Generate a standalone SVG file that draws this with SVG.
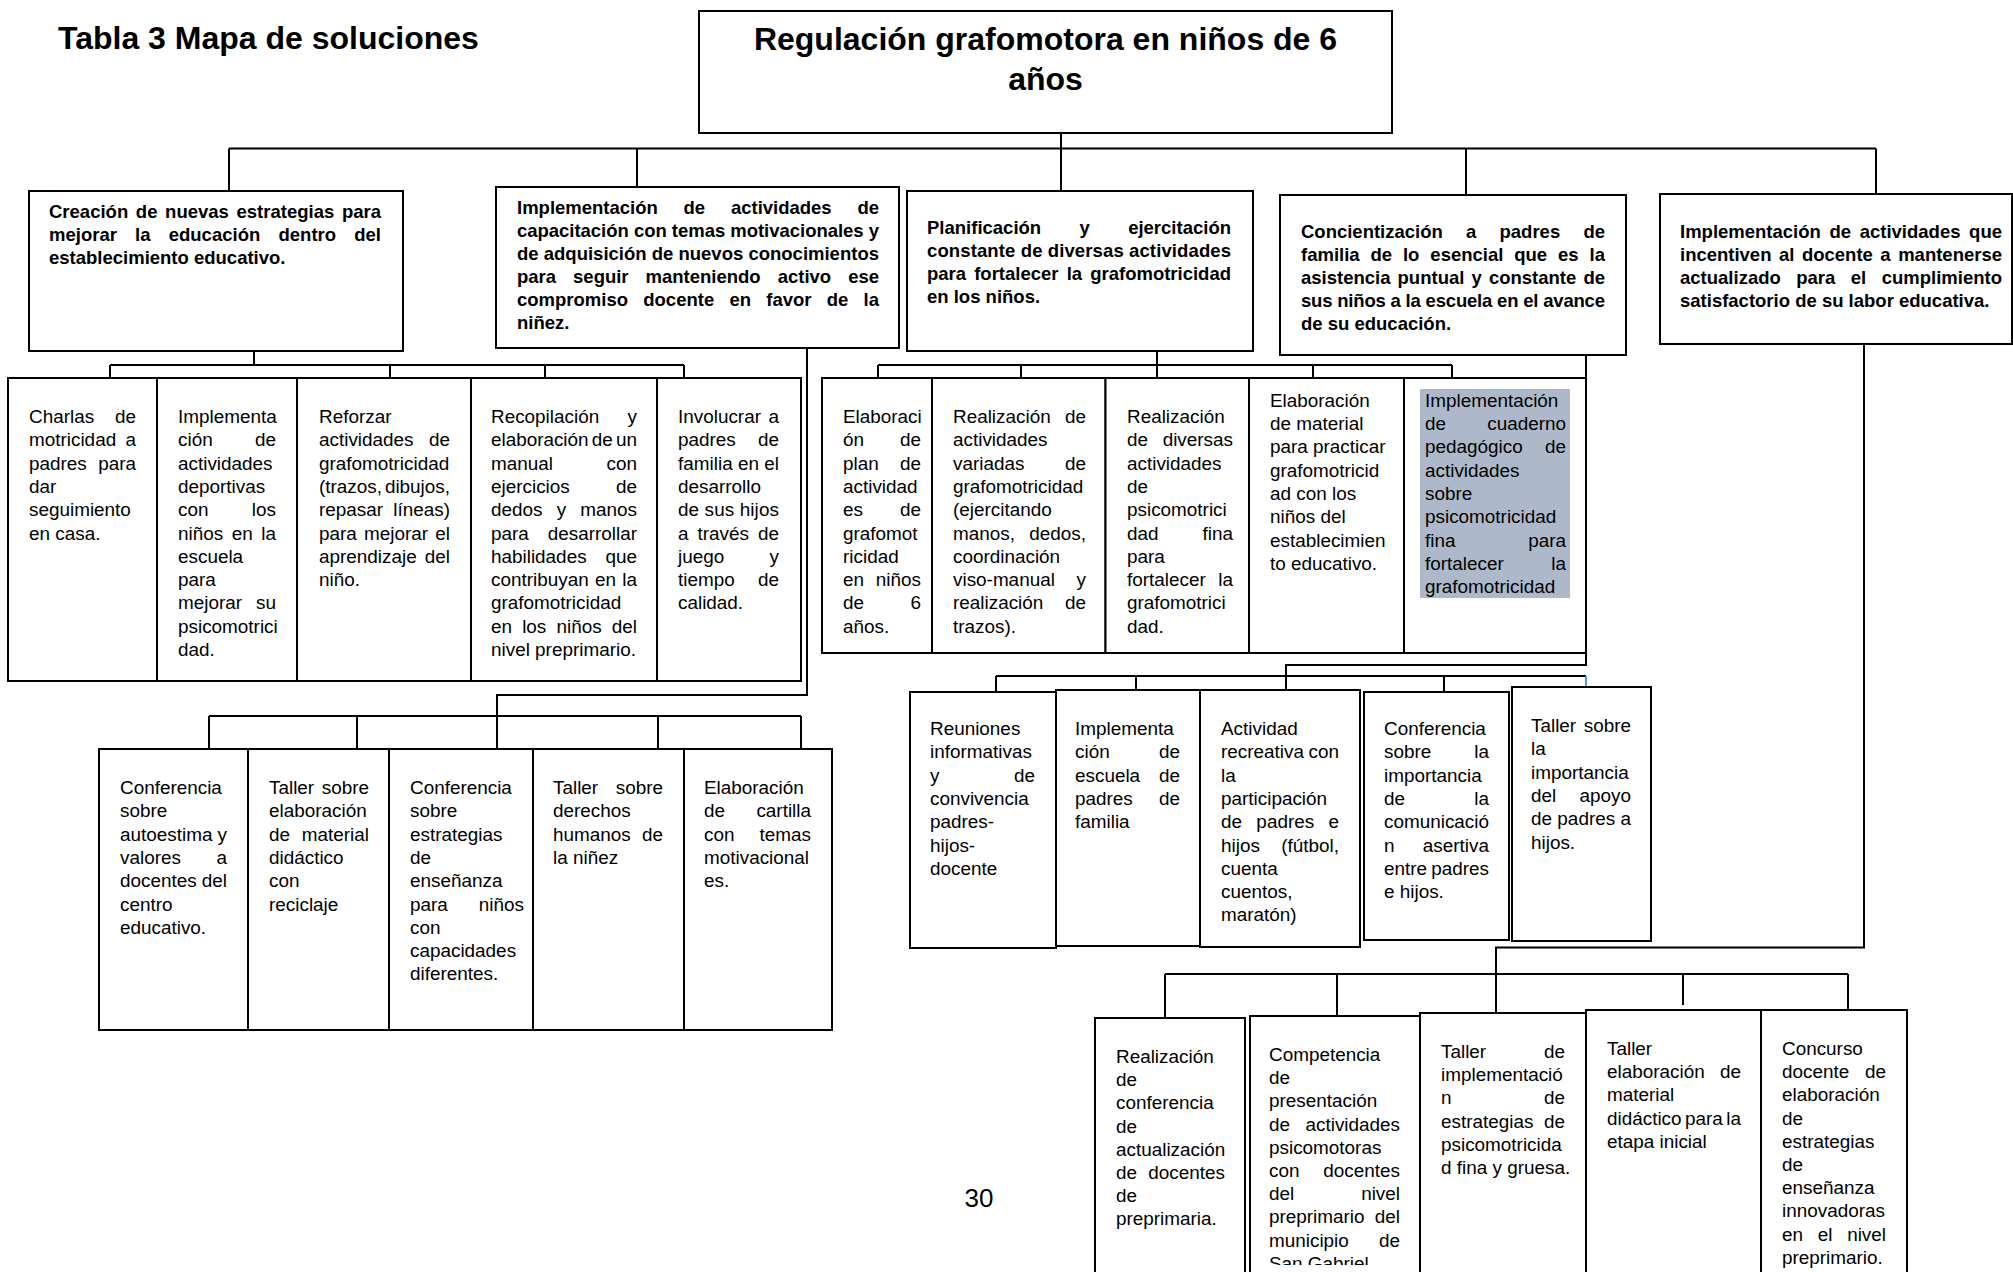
<svg xmlns="http://www.w3.org/2000/svg" width="2013" height="1272" viewBox="0 0 2013 1272">
<style>
text{font-family:"Liberation Sans",Arial,sans-serif;fill:#000}
.n text,text.n{font-size:18.9px}
.b text,text.b{font-size:18.5px;font-weight:bold}
.h{font-size:32px;font-weight:bold}
.e{text-anchor:end}
.box{fill:#fff;stroke:#000;stroke-width:2}
.c{fill:none;stroke:#000;stroke-width:2}
</style>
<defs>
<clipPath id="clipE2"><rect x="1250" y="1000" width="170" height="265"/></clipPath>
</defs>
<rect width="2013" height="1272" fill="#fff"/>
<text class="h" x="58" y="49">Tabla 3 Mapa de soluciones</text>

<g id="connectors" class="c">
<path d="M1061,133V191M229,148.5H1876M229,148.5V191M637,148.5V187M1466,148.5V195M1876,148.5V194"/>
<path d="M254,351V365M110,365H684M110,365V378M390,365V378M545,365V378M684,365V378"/>
<path d="M807,348V695H497V749M209,716H801M209,716V749M357,716V749M658,716V749M801,716V749"/>
<path d="M1157,351V378M878,365H1452M878,365V378M1021,365V378M1313,365V378M1452,365V378M1586,355V378"/>
<path d="M1586,653V665H1286V692M996,676H1586M996,676V692M1136,676V690M1444,676V692"/>
<path d="M1586,676V687" style="stroke:#5b9bd5"/>
<path d="M1864,344V947.5H1496V1013M1165,974H1848M1165,974V1018M1337,974V1016M1683,974V1005M1848,974V1010"/>
</g>

<g id="n-root">
<rect class="box" x="699" y="11" width="693" height="122"/>
<text class="h" x="1045.5" y="50" text-anchor="middle">Regulación grafomotora en niños de 6</text>
<text class="h" x="1045.5" y="90" text-anchor="middle">años</text>
</g>

<g id="n-l1-1" class="b">
<rect class="box" x="29" y="191" width="374" height="160"/>
<text x="49" y="217.5" textLength="332" lengthAdjust="spacing" word-spacing="2.5">Creación de nuevas estrategias para</text>
<text x="49" y="240.6" textLength="332" lengthAdjust="spacing" word-spacing="13">mejorar la educación dentro del</text>
<text x="49" y="263.7">establecimiento educativo.</text>
</g>

<g id="n-l1-2" class="b">
<rect class="box" x="496" y="187" width="403" height="161"/>
<text x="517" y="213.5" textLength="362" lengthAdjust="spacing" word-spacing="20.6">Implementación de actividades de</text>
<text x="517" y="236.6" textLength="362" lengthAdjust="spacing">capacitación con temas motivacionales y</text>
<text x="517" y="259.7" textLength="362" lengthAdjust="spacing">de adquisición de nuevos conocimientos</text>
<text x="517" y="282.8" textLength="362" lengthAdjust="spacing" word-spacing="11.9">para seguir manteniendo activo ese</text>
<text x="517" y="305.9" textLength="362" lengthAdjust="spacing" word-spacing="10.1">compromiso docente en favor de la</text>
<text x="517" y="329">niñez.</text>
</g>

<g id="n-l1-3" class="b">
<rect class="box" x="907" y="191" width="346" height="160"/>
<text x="927" y="234" textLength="304" lengthAdjust="spacing" word-spacing="33.2">Planificación y ejercitación</text>
<text x="927" y="257.1" textLength="304" lengthAdjust="spacing">constante de diversas actividades</text>
<text x="927" y="280.2" textLength="304" lengthAdjust="spacing" word-spacing="3">para fortalecer la grafomotricidad</text>
<text x="927" y="303.3">en los niños.</text>
</g>

<g id="n-l1-4" class="b">
<rect class="box" x="1280" y="195" width="346" height="160"/>
<text x="1301" y="238" textLength="304" lengthAdjust="spacing" word-spacing="18.1">Concientización a padres de</text>
<text x="1301" y="261.1" textLength="304" lengthAdjust="spacing" word-spacing="5.8">familia de lo esencial que es la</text>
<text x="1301" y="284.2" textLength="304" lengthAdjust="spacing" word-spacing="2">asistencia puntual y constante de</text>
<text x="1301" y="307.3" textLength="304" lengthAdjust="spacing">sus niños a la escuela en el avance</text>
<text x="1301" y="330.4">de su educación.</text>
</g>

<g id="n-l1-5" class="b">
<rect class="box" x="1660" y="194" width="352" height="150"/>
<text x="1680" y="238" textLength="322" lengthAdjust="spacing" word-spacing="3.5">Implementación de actividades que</text>
<text x="1680" y="261.1" textLength="322" lengthAdjust="spacing" word-spacing="2.4">incentiven al docente a mantenerse</text>
<text x="1680" y="284.2" textLength="322" lengthAdjust="spacing" word-spacing="10.3">actualizado para el cumplimiento</text>
<text x="1680" y="307.3">satisfactorio de su labor educativa.</text>
</g>

<!-- Row A -->
<g id="n-a1" class="n">
<rect class="box" x="8" y="378" width="149" height="303"/>
<text x="29" y="423">Charlas</text><text class="e" x="136" y="423">de</text>
<text x="29" y="446.3">motricidad</text><text class="e" x="136" y="446.3">a</text>
<text x="29" y="469.6">padres</text><text class="e" x="136" y="469.6">para</text>
<text x="29" y="492.9">dar</text>
<text x="29" y="516.2">seguimiento</text>
<text x="29" y="539.5">en casa.</text>
</g>
<g id="n-a2" class="n">
<rect class="box" x="157" y="378" width="140" height="303"/>
<text x="178" y="423">Implementa</text>
<text x="178" y="446.3">ción</text><text class="e" x="276" y="446.3">de</text>
<text x="178" y="469.6">actividades</text>
<text x="178" y="492.9">deportivas</text>
<text x="178" y="516.2">con</text><text class="e" x="276" y="516.2">los</text>
<text x="178" y="539.5" textLength="98" lengthAdjust="spacing" word-spacing="3.3">niños en la</text>
<text x="178" y="562.8">escuela</text>
<text x="178" y="586.1">para</text>
<text x="178" y="609.4">mejorar</text><text class="e" x="276" y="609.4">su</text>
<text x="178" y="632.7">psicomotrici</text>
<text x="178" y="656">dad.</text>
</g>
<g id="n-a3" class="n">
<rect class="box" x="297" y="378" width="174" height="303"/>
<text x="319" y="423">Reforzar</text>
<text x="319" y="446.3">actividades</text><text class="e" x="450" y="446.3">de</text>
<text x="319" y="469.6">grafomotricidad</text>
<text x="319" y="492.9">(trazos,</text><text class="e" x="450" y="492.9">dibujos,</text>
<text x="319" y="516.2">repasar</text><text class="e" x="450" y="516.2">líneas)</text>
<text x="319" y="539.5" textLength="131" lengthAdjust="spacing" word-spacing="2">para mejorar el</text>
<text x="319" y="562.8">aprendizaje</text><text class="e" x="450" y="562.8">del</text>
<text x="319" y="586.1">niño.</text>
</g>
<g id="n-a4" class="n">
<rect class="box" x="471" y="378" width="186" height="303"/>
<text x="491" y="423">Recopilación</text><text class="e" x="637" y="423">y</text>
<text x="491" y="446.3" textLength="146" lengthAdjust="spacing" word-spacing="-2">elaboración de un</text>
<text x="491" y="469.6">manual</text><text class="e" x="637" y="469.6">con</text>
<text x="491" y="492.9">ejercicios</text><text class="e" x="637" y="492.9">de</text>
<text x="491" y="516.2" textLength="146" lengthAdjust="spacing" word-spacing="8.9">dedos y manos</text>
<text x="491" y="539.5">para</text><text class="e" x="637" y="539.5">desarrollar</text>
<text x="491" y="562.8">habilidades</text><text class="e" x="637" y="562.8">que</text>
<text x="491" y="586.1" textLength="146" lengthAdjust="spacing" word-spacing="1">contribuyan en la</text>
<text x="491" y="609.4">grafomotricidad</text>
<text x="491" y="632.7" textLength="146" lengthAdjust="spacing" word-spacing="4.9">en los niños del</text>
<text x="491" y="656">nivel preprimario.</text>
</g>
<g id="n-a5" class="n">
<rect class="box" x="657" y="378" width="144" height="303"/>
<text x="678" y="423">Involucrar</text><text class="e" x="779" y="423">a</text>
<text x="678" y="446.3">padres</text><text class="e" x="779" y="446.3">de</text>
<text x="678" y="469.6" textLength="101" lengthAdjust="spacing">familia en el</text>
<text x="678" y="492.9">desarrollo</text>
<text x="678" y="516.2" textLength="101" lengthAdjust="spacing">de sus hijos</text>
<text x="678" y="539.5" textLength="101" lengthAdjust="spacing" word-spacing="3.7">a través de</text>
<text x="678" y="562.8">juego</text><text class="e" x="779" y="562.8">y</text>
<text x="678" y="586.1">tiempo</text><text class="e" x="779" y="586.1">de</text>
<text x="678" y="609.4">calidad.</text>
</g>

<!-- Row B -->
<g id="n-b1" class="n">
<rect class="box" x="99" y="749" width="149" height="281"/>
<text x="120" y="794">Conferencia</text>
<text x="120" y="817.3">sobre</text>
<text x="120" y="840.6">autoestima</text><text class="e" x="227" y="840.6">y</text>
<text x="120" y="863.9">valores</text><text class="e" x="227" y="863.9">a</text>
<text x="120" y="887.2">docentes</text><text class="e" x="227" y="887.2">del</text>
<text x="120" y="910.5">centro</text>
<text x="120" y="933.8">educativo.</text>
</g>
<g id="n-b2" class="n">
<rect class="box" x="248" y="749" width="141" height="281"/>
<text x="269" y="794">Taller</text><text class="e" x="369" y="794">sobre</text>
<text x="269" y="817.3">elaboración</text>
<text x="269" y="840.6">de</text><text class="e" x="369" y="840.6">material</text>
<text x="269" y="863.9">didáctico</text>
<text x="269" y="887.2">con</text>
<text x="269" y="910.5">reciclaje</text>
</g>
<g id="n-b3" class="n">
<rect class="box" x="389" y="749" width="144" height="281"/>
<text x="410" y="794">Conferencia</text>
<text x="410" y="817.3">sobre</text>
<text x="410" y="840.6">estrategias</text>
<text x="410" y="863.9">de</text>
<text x="410" y="887.2">enseñanza</text>
<text x="410" y="910.5">para</text><text class="e" x="524" y="910.5">niños</text>
<text x="410" y="933.8">con</text>
<text x="410" y="957.1">capacidades</text>
<text x="410" y="980.4">diferentes.</text>
</g>
<g id="n-b4" class="n">
<rect class="box" x="533" y="749" width="151" height="281"/>
<text x="553" y="794">Taller</text><text class="e" x="663" y="794">sobre</text>
<text x="553" y="817.3">derechos</text>
<text x="553" y="840.6">humanos</text><text class="e" x="663" y="840.6">de</text>
<text x="553" y="863.9">la niñez</text>
</g>
<g id="n-b5" class="n">
<rect class="box" x="684" y="749" width="148" height="281"/>
<text x="704" y="794">Elaboración</text>
<text x="704" y="817.3">de</text><text class="e" x="811" y="817.3">cartilla</text>
<text x="704" y="840.6">con</text><text class="e" x="811" y="840.6">temas</text>
<text x="704" y="863.9">motivacional</text>
<text x="704" y="887.2">es.</text>
</g>

<!-- Row C -->
<g id="n-c1" class="n">
<rect class="box" x="822" y="378" width="110" height="275"/>
<text x="843" y="423">Elaboraci</text>
<text x="843" y="446.3">ón</text><text class="e" x="921" y="446.3">de</text>
<text x="843" y="469.6">plan</text><text class="e" x="921" y="469.6">de</text>
<text x="843" y="492.9">actividad</text>
<text x="843" y="516.2">es</text><text class="e" x="921" y="516.2">de</text>
<text x="843" y="539.5">grafomot</text>
<text x="843" y="562.8">ricidad</text>
<text x="843" y="586.1">en</text><text class="e" x="921" y="586.1">niños</text>
<text x="843" y="609.4">de</text><text class="e" x="921" y="609.4">6</text>
<text x="843" y="632.7">años.</text>
</g>
<g id="n-c2" class="n">
<rect class="box" x="932" y="378" width="173.5" height="275"/>
<text x="953" y="423">Realización</text><text class="e" x="1086" y="423">de</text>
<text x="953" y="446.3">actividades</text>
<text x="953" y="469.6">variadas</text><text class="e" x="1086" y="469.6">de</text>
<text x="953" y="492.9">grafomotricidad</text>
<text x="953" y="516.2">(ejercitando</text>
<text x="953" y="539.5">manos,</text><text class="e" x="1086" y="539.5">dedos,</text>
<text x="953" y="562.8">coordinación</text>
<text x="953" y="586.1">viso-manual</text><text class="e" x="1086" y="586.1">y</text>
<text x="953" y="609.4">realización</text><text class="e" x="1086" y="609.4">de</text>
<text x="953" y="632.7">trazos).</text>
</g>
<g id="n-c3" class="n">
<rect class="box" x="1105.5" y="378" width="143.5" height="275"/>
<text x="1127" y="423">Realización</text>
<text x="1127" y="446.3">de</text><text class="e" x="1233" y="446.3">diversas</text>
<text x="1127" y="469.6">actividades</text>
<text x="1127" y="492.9">de</text>
<text x="1127" y="516.2">psicomotrici</text>
<text x="1127" y="539.5">dad</text><text class="e" x="1233" y="539.5">fina</text>
<text x="1127" y="562.8">para</text>
<text x="1127" y="586.1">fortalecer</text><text class="e" x="1233" y="586.1">la</text>
<text x="1127" y="609.4">grafomotrici</text>
<text x="1127" y="632.7">dad.</text>
</g>
<g id="n-c4" class="n">
<rect class="box" x="1249" y="378" width="155" height="275"/>
<text x="1270" y="406.7">Elaboración</text>
<text x="1270" y="430">de material</text>
<text x="1270" y="453.3">para practicar</text>
<text x="1270" y="476.6">grafomotricid</text>
<text x="1270" y="499.9">ad con los</text>
<text x="1270" y="523.2">niños del</text>
<text x="1270" y="546.5">establecimien</text>
<text x="1270" y="569.8">to educativo.</text>
</g>
<g id="n-c5" class="n">
<rect class="box" x="1404" y="378" width="182" height="275"/>
<rect x="1420" y="389" width="150" height="209" fill="#adb9ca"/>
<text x="1425" y="406.7">Implementación</text>
<text x="1425" y="430">de</text><text class="e" x="1566" y="430">cuaderno</text>
<text x="1425" y="453.3">pedagógico</text><text class="e" x="1566" y="453.3">de</text>
<text x="1425" y="476.6">actividades</text>
<text x="1425" y="499.9">sobre</text>
<text x="1425" y="523.2">psicomotricidad</text>
<text x="1425" y="546.5">fina</text><text class="e" x="1566" y="546.5">para</text>
<text x="1425" y="569.8">fortalecer</text><text class="e" x="1566" y="569.8">la</text>
<text x="1425" y="593.1">grafomotricidad</text>
</g>

<!-- Row D -->
<g id="n-d1" class="n">
<rect class="box" x="910" y="692" width="146" height="256"/>
<text x="930" y="735">Reuniones</text>
<text x="930" y="758.3">informativas</text>
<text x="930" y="781.6">y</text><text class="e" x="1035" y="781.6">de</text>
<text x="930" y="804.9">convivencia</text>
<text x="930" y="828.2">padres-</text>
<text x="930" y="851.5">hijos-</text>
<text x="930" y="874.8">docente</text>
</g>
<g id="n-d2" class="n">
<rect class="box" x="1056" y="690" width="144" height="256"/>
<text x="1075" y="735">Implementa</text>
<text x="1075" y="758.3">ción</text><text class="e" x="1180" y="758.3">de</text>
<text x="1075" y="781.6">escuela</text><text class="e" x="1180" y="781.6">de</text>
<text x="1075" y="804.9">padres</text><text class="e" x="1180" y="804.9">de</text>
<text x="1075" y="828.2">familia</text>
</g>
<g id="n-d3" class="n">
<rect class="box" x="1200" y="690" width="160" height="257"/>
<text x="1221" y="735">Actividad</text>
<text x="1221" y="758.3">recreativa</text><text class="e" x="1339" y="758.3">con</text>
<text x="1221" y="781.6">la</text>
<text x="1221" y="804.9">participación</text>
<text x="1221" y="828.2" textLength="118" lengthAdjust="spacing" word-spacing="9.1">de padres e</text>
<text x="1221" y="851.5">hijos</text><text class="e" x="1339" y="851.5">(fútbol,</text>
<text x="1221" y="874.8">cuenta</text>
<text x="1221" y="898.1">cuentos,</text>
<text x="1221" y="921.4">maratón)</text>
</g>
<g id="n-d4" class="n">
<rect class="box" x="1364" y="692" width="145" height="248"/>
<text x="1384" y="735">Conferencia</text>
<text x="1384" y="758.3">sobre</text><text class="e" x="1489" y="758.3">la</text>
<text x="1384" y="781.6">importancia</text>
<text x="1384" y="804.9">de</text><text class="e" x="1489" y="804.9">la</text>
<text x="1384" y="828.2">comunicació</text>
<text x="1384" y="851.5">n</text><text class="e" x="1489" y="851.5">asertiva</text>
<text x="1384" y="874.8">entre</text><text class="e" x="1489" y="874.8">padres</text>
<text x="1384" y="898.1">e hijos.</text>
</g>
<g id="n-d5" class="n">
<rect class="box" x="1512" y="687" width="139" height="254"/>
<text x="1531" y="732">Taller</text><text class="e" x="1631" y="732">sobre</text>
<text x="1531" y="755.3">la</text>
<text x="1531" y="778.6">importancia</text>
<text x="1531" y="801.9">del</text><text class="e" x="1631" y="801.9">apoyo</text>
<text x="1531" y="825.2" textLength="100" lengthAdjust="spacing">de padres a</text>
<text x="1531" y="848.5">hijos.</text>
</g>

<!-- Row E -->
<g id="n-e1" class="n">
<rect class="box" x="1095" y="1018" width="150" height="280"/>
<text x="1116" y="1063">Realización</text>
<text x="1116" y="1086.2">de</text>
<text x="1116" y="1109.4">conferencia</text>
<text x="1116" y="1132.6">de</text>
<text x="1116" y="1155.8">actualización</text>
<text x="1116" y="1179">de</text><text class="e" x="1225" y="1179">docentes</text>
<text x="1116" y="1202.2">de</text>
<text x="1116" y="1225.4">preprimaria.</text>
</g>
<g id="n-e2" class="n">
<rect class="box" x="1250" y="1016" width="170" height="280"/>
<text x="1269" y="1061">Competencia</text>
<text x="1269" y="1084.2">de</text>
<text x="1269" y="1107.4">presentación</text>
<text x="1269" y="1130.6">de</text><text class="e" x="1400" y="1130.6">actividades</text>
<text x="1269" y="1153.8">psicomotoras</text>
<text x="1269" y="1177">con</text><text class="e" x="1400" y="1177">docentes</text>
<text x="1269" y="1200.2">del</text><text class="e" x="1400" y="1200.2">nivel</text>
<text x="1269" y="1223.4">preprimario</text><text class="e" x="1400" y="1223.4">del</text>
<text x="1269" y="1246.6">municipio</text><text class="e" x="1400" y="1246.6">de</text>
<text x="1269" y="1269.8" clip-path="url(#clipE2)">San Gabriel</text>
</g>
<g id="n-e3" class="n">
<rect class="box" x="1420" y="1013" width="166" height="285"/>
<text x="1441" y="1058">Taller</text><text class="e" x="1565" y="1058">de</text>
<text x="1441" y="1081.2">implementació</text>
<text x="1441" y="1104.4">n</text><text class="e" x="1565" y="1104.4">de</text>
<text x="1441" y="1127.6">estrategias</text><text class="e" x="1565" y="1127.6">de</text>
<text x="1441" y="1150.8">psicomotricida</text>
<text x="1441" y="1174">d fina y gruesa.</text>
</g>
<g id="n-e4" class="n">
<rect class="box" x="1586" y="1010" width="175" height="290"/>
<text x="1607" y="1055">Taller</text>
<text x="1607" y="1078.2">elaboración</text><text class="e" x="1741" y="1078.2">de</text>
<text x="1607" y="1101.4">material</text>
<text x="1607" y="1124.6" textLength="134" lengthAdjust="spacing" word-spacing="-1.8">didáctico para la</text>
<text x="1607" y="1147.8">etapa inicial</text>
</g>
<g id="n-e5" class="n">
<rect class="box" x="1761" y="1010" width="146" height="290"/>
<text x="1782" y="1055">Concurso</text>
<text x="1782" y="1078.2">docente</text><text class="e" x="1886" y="1078.2">de</text>
<text x="1782" y="1101.4">elaboración</text>
<text x="1782" y="1124.6">de</text>
<text x="1782" y="1147.8">estrategias</text>
<text x="1782" y="1171">de</text>
<text x="1782" y="1194.2">enseñanza</text>
<text x="1782" y="1217.4">innovadoras</text>
<text x="1782" y="1240.6" textLength="104" lengthAdjust="spacing" word-spacing="9.5">en el nivel</text>
<text x="1782" y="1263.8">preprimario.</text>
</g>

<text x="979" y="1207" font-size="26" text-anchor="middle">30</text>
</svg>
